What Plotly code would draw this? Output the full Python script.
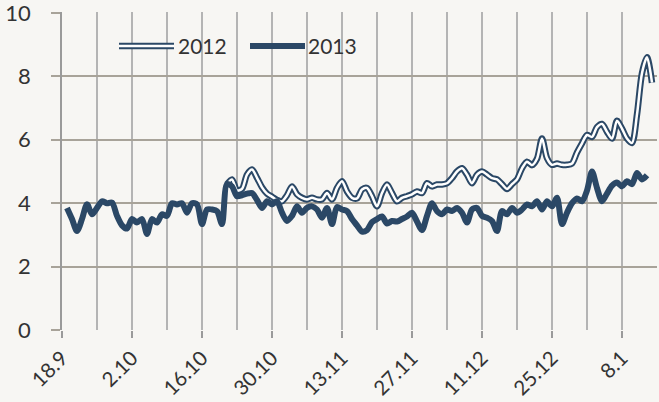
import datetime as dt
import plotly.graph_objects as go

start = dt.date(2013, 9, 18)

# 2013 daily values, day offsets 1..117 from 18.9
vals_2013 = [3.85, 3.5, 3.12, 3.5, 3.97, 3.65, 3.85, 4.06, 4.0, 4.02,
             3.6, 3.3, 3.2, 3.5, 3.39, 3.5, 3.03, 3.5, 3.39, 3.65,
             3.6, 4.0, 3.96, 4.0, 3.7, 4.0, 3.96, 3.34, 3.8, 3.8,
             3.75, 3.34, 4.6, 4.53, 4.22, 4.25, 4.3, 4.32, 4.1, 3.85,
             4.06, 3.96, 4.06, 3.7, 3.44, 3.6, 3.9, 3.7, 3.85, 3.9,
             3.8, 3.54, 3.85, 3.34, 3.88, 3.8, 3.75, 3.5, 3.3, 3.1,
             3.15, 3.4, 3.5, 3.58, 3.36, 3.44, 3.42, 3.5, 3.58, 3.7,
             3.42, 3.15, 3.6, 4.0, 3.75, 3.65, 3.8, 3.75, 3.85, 3.7,
             3.39, 3.8, 3.85, 3.6, 3.54, 3.44, 3.12, 3.75, 3.65, 3.85,
             3.7, 3.8, 3.96, 3.9, 4.06, 3.8, 4.06, 3.9, 4.17, 3.34,
             3.7, 4.0, 4.15, 4.06, 4.4, 5.0, 4.48, 4.06, 4.3, 4.55,
             4.65, 4.53, 4.69, 4.6, 4.95, 4.75, 4.88]
first_day_2013 = 1

# 2012 values aligned on the same calendar, day offsets 33..118
vals_2012 = [4.6, 4.75, 4.4, 4.45, 4.9, 5.06, 4.8, 4.5, 4.3, 4.2,
             4.1, 4.06, 4.25, 4.53, 4.28, 4.17, 4.12, 4.17, 4.12, 4.12,
             4.32, 4.12, 4.48, 4.69, 4.37, 4.17, 4.15, 4.43, 4.48, 4.22,
             3.9, 4.32, 4.59, 4.32, 4.06, 4.17, 4.22, 4.28, 4.37, 4.32,
             4.63, 4.53, 4.59, 4.59, 4.63, 4.79, 5.0, 5.1, 4.9, 4.63,
             4.9, 5.0, 4.9, 4.79, 4.75, 4.6, 4.45, 4.6, 4.75, 5.1,
             5.31, 5.2, 5.4, 6.04, 5.42, 5.21, 5.25, 5.21, 5.21, 5.25,
             5.6, 5.89, 6.15, 6.09, 6.4, 6.5, 6.25, 6.04, 6.6, 6.35,
             6.04, 5.9, 6.8, 8.1, 8.6, 7.8]
first_day_2012 = 33

y_ticks = [0, 2, 4, 6, 8, 10]

dates_2013 = [start + dt.timedelta(days=first_day_2013 + i) for i in range(len(vals_2013))]
dates_2012 = [start + dt.timedelta(days=first_day_2012 + i) for i in range(len(vals_2012))]

DARK = "#2b4866"
BG = "#f7f6f3"
FONT = "Lato"
TXT = "#333333"

fig = go.Figure()
fig.add_trace(go.Scatter(x=dates_2012, y=vals_2012, mode="lines",
                         line=dict(color=DARK, width=6.5, shape="spline", smoothing=0.8),
                         showlegend=False, hoverinfo="skip"))
fig.add_trace(go.Scatter(x=dates_2012, y=vals_2012, mode="lines", name="2012",
                         line=dict(color="#ffffff", width=2.5, shape="spline", smoothing=0.8),
                         showlegend=False))
fig.add_trace(go.Scatter(x=dates_2013, y=vals_2013, mode="lines", name="2013",
                         line=dict(color=DARK, width=6, shape="spline", smoothing=0.8),
                         showlegend=False))

DAY_MS = 86400000
fig.update_xaxes(type="date", automargin=False,
                 range=[start.isoformat(), (start + dt.timedelta(days=119)).isoformat()],
                 tick0=start.isoformat(), dtick=14 * DAY_MS, tickformat="%-d.%-m",
                 tickangle=-45, ticks="outside", ticklen=7, tickwidth=1.5, tickcolor="#9a9a9a",
                 showgrid=True, gridcolor="#b4b4b4", gridwidth=1.5,
                 minor=dict(dtick=7 * DAY_MS, tick0=start.isoformat(), showgrid=True,
                            gridcolor="#b4b4b4", gridwidth=1.5),
                 showline=False, zeroline=False, ticklabeloverflow="allow",
                 tickfont=dict(family=FONT, size=20.5, color=TXT))
fig.update_yaxes(range=[0, 10.03], tickvals=y_ticks, automargin=False,
                 ticks="outside", ticklen=9, tickwidth=1.5,
                 tickcolor="#a8a399", showgrid=True, gridcolor="#a8a399", gridwidth=1.5,
                 showline=True, linecolor="#9a9a9a", linewidth=1.5, zeroline=False,
                 ticklabelstandoff=16, ticklabeloverflow="allow",
                 tickfont=dict(family=FONT, size=22, color=TXT))

# manual legend (double line for 2012, solid for 2013)
def px_x(p):
    return (p - 62) / 595.0

def px_y(p):
    return (330 - p) / 318.0

ly = px_y(46)
fig.add_shape(type="line", xref="paper", yref="paper", x0=px_x(119), x1=px_x(174), y0=ly, y1=ly,
              line=dict(color=DARK, width=6.5))
fig.add_shape(type="line", xref="paper", yref="paper", x0=px_x(119), x1=px_x(174), y0=ly, y1=ly,
              line=dict(color="#ffffff", width=2.5))
fig.add_shape(type="line", xref="paper", yref="paper", x0=px_x(250), x1=px_x(305), y0=ly, y1=ly,
              line=dict(color=DARK, width=6))
fig.add_annotation(xref="paper", yref="paper", x=px_x(176), y=ly, text="2012", showarrow=False,
                   xanchor="left", yanchor="middle", font=dict(family=FONT, size=21, color=TXT))
fig.add_annotation(xref="paper", yref="paper", x=px_x(306), y=ly, text="2013", showarrow=False,
                   xanchor="left", yanchor="middle", font=dict(family=FONT, size=21, color=TXT))

fig.update_layout(width=659, height=402, margin=dict(l=62, r=2, t=12, b=72),
                  paper_bgcolor=BG, plot_bgcolor=BG, showlegend=False)

fig.write_html("out.html", config={"displayModeBar": False},
               post_script="document.body.style.margin='0';"
                           "document.body.style.background='" + BG + "';")
